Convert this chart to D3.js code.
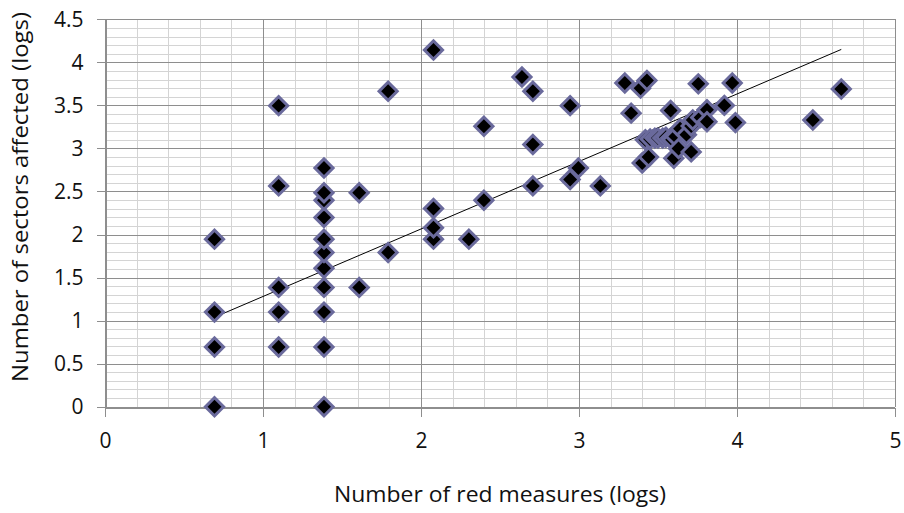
<!DOCTYPE html>
<html lang="en">
<head>
<meta charset="UTF-8">
<title>Red measures vs sectors affected</title>
<script src="https://d3js.org/d3.v7.min.js"></script>
<style>
  body { margin: 0; background: #fff; }
  text { font-family: "Open Sans", "Lato", sans-serif; fill: #111; }
</style>
</head>
<body>
<svg id="chart" width="904" height="513"></svg>
<script>
// data (logs)
const redMeasures = [
  0.693, 0.693, 0.693, 0.693,
  1.099, 1.099, 1.099, 1.099, 1.099,
  1.386, 1.386, 1.386, 1.386, 1.386, 1.386, 1.386, 1.386, 1.386, 1.386, 1.386,
  1.609, 1.609, 1.792, 1.792,
  2.079, 2.079, 2.079, 2.079, 2.303, 2.398, 2.398,
  2.639, 2.708, 2.708, 2.708, 2.944, 2.944, 2.996, 3.135,
  3.29, 3.33, 3.39, 3.43, 3.40, 3.44,
  3.42, 3.45, 3.48, 3.50, 3.53, 3.55, 3.58, 3.59,
  3.58, 3.60, 3.61, 3.63, 3.64, 3.68, 3.71, 3.71, 3.72, 3.755, 3.77,
  3.81, 3.81, 3.92, 3.97, 3.99, 4.48, 4.66
];
const sectorsAffected = [
  0, 0.693, 1.099, 1.946,
  0.693, 1.099, 1.386, 2.565, 3.497,
  0, 0.693, 1.099, 1.386, 1.609, 1.792, 1.946, 2.197, 2.398, 2.485, 2.773,
  1.386, 2.485, 1.792, 3.664,
  1.946, 2.079, 2.303, 4.143, 1.946, 2.398, 3.258,
  3.829, 3.664, 3.045, 2.565, 3.497, 2.639, 2.773, 2.565,
  3.76, 3.41, 3.70, 3.79, 2.83, 2.90,
  3.10, 3.11, 3.12, 3.12, 3.12, 3.13, 3.12, 3.10,
  3.44, 2.885, 3.14, 3.00, 3.23, 3.16, 3.26, 2.96, 3.33, 3.75, 3.36,
  3.45, 3.31, 3.50, 3.76, 3.30, 3.33, 3.69
];
// linear trend line end points
const trendX = [0.70, 4.66];
const trendY = [1.045, 4.15];

const xTicks = [0, 1, 2, 3, 4, 5];
const yTicks = [0, 0.5, 1, 1.5, 2, 2.5, 3, 3.5, 4, 4.5];

const svg = d3.select("#chart");
const plotL = 105, plotR = 895, plotT = 19.3, plotB = 406.7;

const x = d3.scaleLinear().domain([0, 5]).range([plotL, plotR]);
const y = d3.scaleLinear().domain([0, 4.5]).range([plotB, plotT]);

// minor grid
const grid = svg.append("g").attr("shape-rendering", "crispEdges");
grid.selectAll("line.mx").data(d3.range(0, 5.001, 0.2)).enter().append("line")
  .attr("x1", d => Math.round(x(d)) + 0.5).attr("x2", d => Math.round(x(d)) + 0.5)
  .attr("y1", plotT).attr("y2", plotB)
  .attr("stroke", "#d4d4d4");
grid.selectAll("line.my").data(d3.range(0, 4.501, 0.1)).enter().append("line")
  .attr("y1", d => Math.round(y(d)) + 0.5).attr("y2", d => Math.round(y(d)) + 0.5)
  .attr("x1", plotL).attr("x2", plotR)
  .attr("stroke", "#d4d4d4");
// major grid
grid.selectAll("line.Mx").data(xTicks).enter().append("line")
  .attr("x1", d => Math.round(x(d)) + 0.5).attr("x2", d => Math.round(x(d)) + 0.5)
  .attr("y1", plotT).attr("y2", plotB)
  .attr("stroke", "#8e8e8e");
grid.selectAll("line.My").data(yTicks).enter().append("line")
  .attr("y1", d => Math.round(y(d)) + 0.5).attr("y2", d => Math.round(y(d)) + 0.5)
  .attr("x1", plotL).attr("x2", plotR)
  .attr("stroke", "#8e8e8e");

// axes
const xAxis = d3.axisBottom(x).tickValues(xTicks).tickSize(9).tickPadding(17).tickSizeOuter(0)
  .tickFormat(d3.format("~g"));
const yAxis = d3.axisLeft(y).tickValues(yTicks).tickSize(9).tickPadding(13).tickSizeOuter(0)
  .tickFormat(d3.format("~g"));

const gx = svg.append("g").attr("transform", `translate(0,${Math.round(plotB) + 0.5})`).call(xAxis);
const gy = svg.append("g").attr("transform", `translate(${Math.round(plotL) + 0.5},0)`).call(yAxis);
[gx, gy].forEach(g => {
  g.selectAll("path, line").attr("stroke", "#8e8e8e").attr("shape-rendering", "crispEdges");
  g.selectAll("text").attr("font-size", 21).attr("font-family", "'Open Sans', sans-serif").attr("fill", "#111");
});

// trend line
svg.append("line")
  .attr("x1", x(trendX[0])).attr("y1", y(trendY[0]))
  .attr("x2", x(trendX[1])).attr("y2", y(trendY[1]))
  .attr("stroke", "#000").attr("stroke-width", 1);

// markers
const pts = redMeasures.map((v, i) => [v, sectorsAffected[i]]);
const diamond = d3.symbol().type(d3.symbolSquare).size(165);
svg.append("g").selectAll("path").data(pts).enter().append("path")
  .attr("d", diamond)
  .attr("transform", d => `translate(${x(d[0])},${y(d[1])}) rotate(45)`)
  .attr("fill", "#000")
  .attr("stroke", "#6a6a9c")
  .attr("stroke-width", 3);

// axis titles
svg.append("text")
  .attr("x", (plotL + plotR) / 2).attr("y", 502)
  .attr("text-anchor", "middle").attr("font-size", 22)
  .attr("textLength", 332).attr("lengthAdjust", "spacingAndGlyphs")
  .text("Number of red measures (logs)");
svg.append("text")
  .attr("transform", "translate(28,197) rotate(-90)")
  .attr("text-anchor", "middle").attr("font-size", 22)
  .attr("textLength", 370).attr("lengthAdjust", "spacingAndGlyphs")
  .text("Number of sectors affected (logs)");
</script>
</body>
</html>
